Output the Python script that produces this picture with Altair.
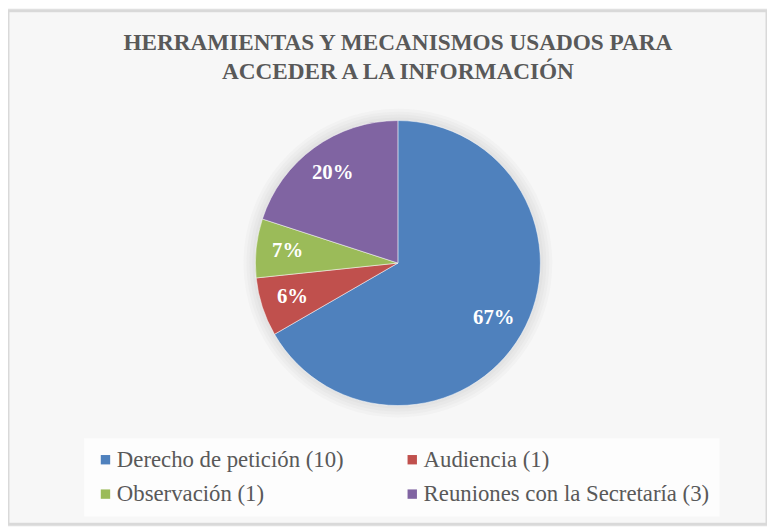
import altair as alt
import pandas as pd

categories = ["Derecho de petición (10)", "Audiencia (1)", "Observación (1)",
              "Reuniones con la Secretaría (3)"]
counts = [10, 1, 1, 3]
pct_labels = ["67%", "6%", "7%", "20%"]
colors = ["#4F81BD", "#C0504D", "#9BBB59", "#8064A2"]
title_lines = ["HERRAMIENTAS Y MECANISMOS USADOS PARA", "ACCEDER A LA INFORMACIÓN"]

df = pd.DataFrame({"cat": categories, "count": counts, "label": pct_labels,
                   "order": list(range(len(categories)))})

# legend is laid out column by column: list entries so rows read across
legend_order = [0, 2, 1, 3]
legend_domain = [categories[i] for i in legend_order]
legend_range = [colors[i] for i in legend_order]

W, H = 767, 519
CX, CY = 394, 255
R = 144
SERIF = "Liberation Serif"
GREY = "#595959"

base = alt.Chart(df).encode(
    theta=alt.Theta("count:Q", stack=True),
    order=alt.Order("order:Q"),
    x=alt.value(CX),
    y=alt.value(CY),
)

shadows = [
    base.mark_arc(radius=R + k, color="#7f7f7f", opacity=0.035, strokeWidth=0)
    for k in (12, 9, 6, 3)
]

pie = base.mark_arc(radius=R, stroke="#ffffff", strokeWidth=0.5).encode(
    color=alt.Color(
        "cat:N",
        scale=alt.Scale(domain=legend_domain, range=legend_range),
        legend=alt.Legend(
            title=None, orient="none", legendX=77, legendY=432, columns=2,
            columnPadding=57, rowPadding=11, padding=10,
            fillColor="#fdfdfd", symbolType="square", symbolSize=90,
            symbolStrokeWidth=0, labelFont=SERIF, labelFontSize=23,
            labelColor=GREY, labelLimit=500, labelOffset=0,
        ),
    )
)

labels = base.mark_text(radius=112, font=SERIF, fontSize=21, fontWeight="bold",
                        color="white").encode(text="label:N")

title = alt.Chart(pd.DataFrame({"t": ["\n".join(title_lines)]})).mark_text(
    font=SERIF, fontSize=23.5, fontWeight="bold", color=GREY, baseline="top",
    align="center", lineBreak="\n", lineHeight=29,
).encode(text="t:N", x=alt.value(CX), y=alt.value(21))

chart = alt.layer(*shadows, pie, labels, title).properties(
    width=W, height=H, padding=0, autosize=alt.AutoSizeParams(type="none"),
    background="#f7f7f7",
).configure_view(stroke="#d9d9d9", strokeWidth=3)

chart.save("out.html", embed_options={"renderer": "svg", "actions": False})
